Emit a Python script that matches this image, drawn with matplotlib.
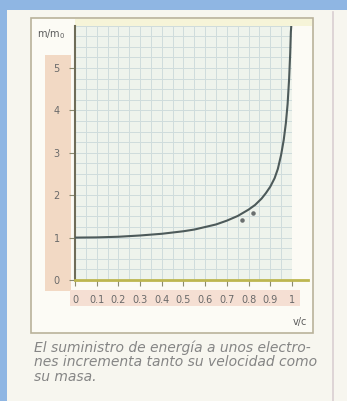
import numpy as np
import matplotlib
matplotlib.use('Agg')
import matplotlib.pyplot as plt
from matplotlib.patches import Rectangle
from matplotlib.lines import Line2D

# curva m/m0 frente a v/c
v_c = [0.0, 0.1, 0.2, 0.3, 0.4, 0.5, 0.55, 0.6, 0.65, 0.7, 0.75, 0.8, 0.83, 0.86, 0.88,
       0.9, 0.92, 0.935, 0.95, 0.962, 0.972, 0.98, 0.987, 0.992, 0.995, 0.997]
m_m0 = [1.0, 1.005, 1.02, 1.05, 1.09, 1.15, 1.19, 1.25, 1.31, 1.40, 1.51, 1.66, 1.77, 1.92, 2.05,
        2.2, 2.4, 2.62, 2.95, 3.3, 3.7, 4.15, 4.75, 5.35, 5.85, 6.0]

# puntos experimentales
pts_x = [0.77, 0.82]
pts_y = [1.41, 1.58]

xticks = [0, 0.1, 0.2, 0.3, 0.4, 0.5, 0.6, 0.7, 0.8, 0.9, 1.0]
xlabels = ['0', '0.1', '0.2', '0.3', '0.4', '0.5', '0.6', '0.7', '0.8', '0.9', '1']
yticks = [0, 1, 2, 3, 4, 5]

caption = ['El suministro de energía a unos electro-',
           'nes incrementa tanto su velocidad como',
           'su masa.']

W, H = 347, 401
fig = plt.figure(figsize=(W / 100, H / 100), dpi=100)
fig.patch.set_facecolor('#f7f6ef')

def px(x, y, w, h):
    # rectangulo en pixeles (desde arriba a la izquierda) -> coords de figura
    return (x / W, 1 - (y + h) / H), w / W, h / H

def rect(x, y, w, h, **kw):
    xy, ww, hh = px(x, y, w, h)
    fig.patches.append(Rectangle(xy, ww, hh, transform=fig.transFigure, zorder=-5, **kw))

# borde azul
rect(0, 0, W, 10, color='#8fb6e3', lw=0)
rect(0, 0, 7, H, color='#8fb6e3', lw=0)
# linea vertical de la pagina
fig.add_artist(Line2D([333 / W, 333 / W], [0, 1 - 12 / H], transform=fig.transFigure,
                      color='#d9cfd2', lw=1.2, zorder=-5))

# recuadro del grafico
rect(31, 18, 282, 315, facecolor='#fcfbf5', edgecolor='#b9b29a', lw=1.2)
rect(75, 19, 237, 7, color='#f6f4d8', lw=0)
# franjas de etiquetas
rect(45, 55, 26, 236, color='#f2d9c4', lw=0)
rect(70, 290, 230, 16, color='#f5dfd3', lw=0)

# ejes
ax = fig.add_axes([75 / W, (H - 280) / H, 233 / W, 254.4 / H])
ax.set_xlim(0, 1.074)
ax.set_ylim(0, 6.0)
ax.set_facecolor('none')
ax.axvspan(0, 1.0, color='#eef3ec', zorder=0)
ax.set_axisbelow(True)
ax.set_xticks(np.arange(0, 1.0001, 0.05), minor=True)
ax.set_yticks(np.arange(0, 6.0001, 0.25), minor=True)
ax.grid(which='both', color='#cfdcdc', lw=0.7)
ax.axvspan(1.0, 1.074, color='#fcfbf5', zorder=0.6, lw=0)

ax.plot(v_c, m_m0, color='#4d5a5a', lw=1.5, zorder=3, solid_joinstyle='round')
ax.scatter(pts_x, pts_y, s=5, color='#6a6f6f', zorder=3)

ax.set_xticks(xticks)
ax.set_xticklabels(xlabels)
ax.set_yticks(yticks)
ax.tick_params(which='major', axis='x', length=4, width=0.8, color='#8a8a70', pad=7,
               labelsize=7, labelcolor='#6a6a6a')
ax.tick_params(which='major', axis='y', length=4, width=0.8, color='#8a8a70', pad=7,
               labelsize=7, labelcolor='#6a6a6a')
ax.tick_params(which='minor', length=0)
for s in ['top', 'right']:
    ax.spines[s].set_visible(False)
ax.spines['left'].set_color('#6e6c58')
ax.spines['left'].set_linewidth(1.5)
ax.spines['bottom'].set_color('#bdb650')
ax.spines['bottom'].set_linewidth(2)

fig.text(37 / W, 1 - 34 / H, 'm/m$_0$', fontsize=7, color='#5a5a5a', va='center')
fig.text(300 / W, 1 - 322 / H, 'v/c', fontsize=7, color='#5a5a5a', va='center', ha='center')

for i, line in enumerate(caption):
    fig.text(34 / W, 1 - (348 + 14.5 * i) / H, line, fontsize=10, style='italic',
             family='DejaVu Sans', color='#858585', va='center')

fig.savefig('out.png', dpi=100, facecolor=fig.get_facecolor())
